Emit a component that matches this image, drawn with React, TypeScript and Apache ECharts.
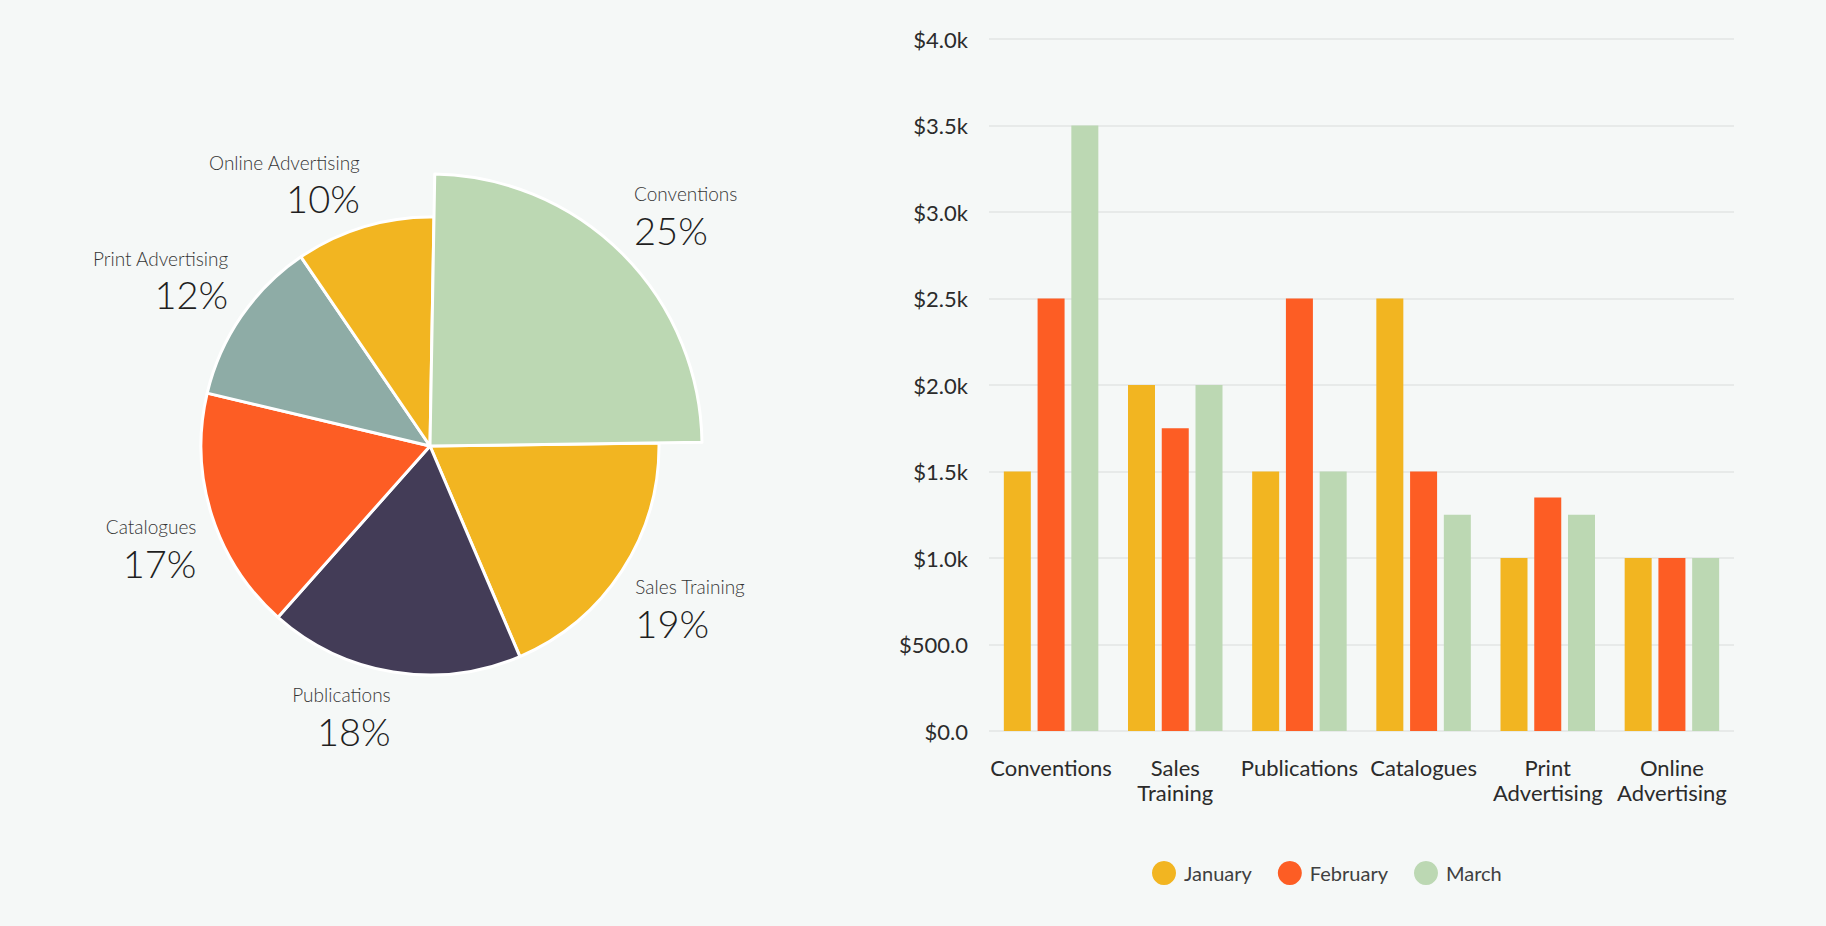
import React, { useEffect, useRef } from "react";
import * as echarts from "echarts";

// ---------- data ----------
const categories = [
  "Conventions",
  "Sales Training",
  "Publications",
  "Catalogues",
  "Print Advertising",
  "Online Advertising",
];
const monthNames = ["January", "February", "March"];
const january = [1500, 2000, 1500, 2500, 1000, 1000];
const february = [2500, 1750, 2500, 1500, 1350, 1000];
const march = [3500, 2000, 1500, 1250, 1250, 1000];

const pieNames = categories;
const pieValues = [7500, 5750, 5500, 5250, 3600, 3000];

// ---------- styles ----------
const BG = "#f5f8f7";
const monthColors = ["#f2b521", "#fd5d24", "#bcd8b3"];
const pieColors = ["#bcd8b3", "#f2b521", "#433c57", "#fd5d24", "#8eaca6", "#f2b521"];
const FONT = 'Lato, "Open Sans", "Noto Sans", sans-serif';

const PIE_CX = 430;
const PIE_CY = 446;
const R_SMALL = 229;
const R_BIG = 272;
const START_OFFSET = 1; // degrees clockwise from 12 o'clock
const LABEL_GAP = 16;

const pieTotal = pieValues.reduce((a, b) => a + b, 0);
function midAngleDeg(i: number) {
  let cum = 0;
  for (let k = 0; k < i; k++) cum += pieValues[k];
  return START_OFFSET + ((cum + pieValues[i] / 2) / pieTotal) * 360;
}

const nameStyle = { fontSize: 19, lineHeight: 26, color: "#363636", fontWeight: 300, fontFamily: FONT };
const pctStyle = { fontSize: 38, lineHeight: 46, color: "#1f1f1f", fontWeight: 300, fontFamily: FONT };

const moneyFmt = (v: number) => (v >= 1000 ? `$${(v / 1000).toFixed(1)}k` : `$${v.toFixed(1)}`);

function buildOption(): any {
  const barSeries = [january, february, march].map((d, i) => ({
    name: monthNames[i],
    type: "bar",
    data: d,
    barWidth: 27,
    barGap: "25%",
    itemStyle: { color: monthColors[i] },
    emphasis: { disabled: true },
    silent: true,
  }));

  const pieMain = {
    type: "pie",
    center: [PIE_CX, PIE_CY],
    radius: R_SMALL,
    startAngle: 90 - START_OFFSET,
    clockwise: true,
    avoidLabelOverlap: false,
    silent: true,
    emphasis: { disabled: true },
    itemStyle: { borderColor: "#ffffff", borderWidth: 3 },
    data: pieNames.map((n, i) => ({ name: n, value: pieValues[i], itemStyle: { color: pieColors[i] } })),
    label: {
      show: true,
      position: "outside",
      formatter: (p: any) => {
        const s = Math.sin((midAngleDeg(p.dataIndex) * Math.PI) / 180) >= 0 ? "l" : "r";
        return `{n${s}|${p.name}}\n{p${s}|${Math.round(p.percent)}%}`;
      },
      rich: {
        nl: { ...nameStyle, align: "left" },
        nr: { ...nameStyle, align: "right" },
        pl: { ...pctStyle, align: "left" },
        pr: { ...pctStyle, align: "right" },
      },
    },
    labelLine: { show: false },
    labelLayout: (params: any) => {
      const i = params.dataIndex;
      const th = (midAngleDeg(i) * Math.PI) / 180;
      const ux = Math.sin(th);
      const uy = -Math.cos(th);
      const R = (i === 0 ? R_BIG : R_SMALL) + LABEL_GAP;
      const px = PIE_CX + R * ux;
      const py = PIE_CY + R * uy;
      return {
        x: px,
        y: uy > 0 ? py - 6 : py - 62,
        align: ux >= 0 ? "left" : "right",
        verticalAlign: "top",
      };
    },
  };

  const pieBig = {
    type: "pie",
    center: [PIE_CX, PIE_CY],
    radius: R_BIG,
    startAngle: 90 - START_OFFSET,
    clockwise: true,
    silent: true,
    z: 3,
    emphasis: { disabled: true },
    label: { show: false },
    labelLine: { show: false },
    data: pieNames.map((n, i) => ({
      name: n,
      value: pieValues[i],
      itemStyle:
        i === 0
          ? { color: pieColors[i], borderColor: "#ffffff", borderWidth: 3 }
          : { color: "rgba(0,0,0,0)", borderWidth: 0 },
    })),
  };

  return {
    animation: false,
    backgroundColor: BG,
    textStyle: { fontFamily: FONT },
    legend: {
      data: monthNames,
      left: 1147,
      top: 856,
      padding: 5,
      icon: "circle",
      itemWidth: 24,
      itemHeight: 24,
      itemGap: 26,
      selectedMode: false,
      textStyle: { fontSize: 20, color: "#404040", fontFamily: FONT, padding: [0, 0, 0, 3] },
    },
    grid: { left: 989, right: 92, top: 39, bottom: 195, containLabel: false },
    xAxis: {
      type: "category",
      data: categories,
      axisLine: { show: false },
      axisTick: { show: false },
      axisLabel: {
        interval: 0,
        fontSize: 22,
        lineHeight: 25,
        margin: 24,
        color: "#2b2b2b",
        fontFamily: FONT,
        formatter: (v: string) => v.replace(" ", "\n"),
      },
    },
    yAxis: {
      type: "value",
      min: 0,
      max: 4000,
      interval: 500,
      axisLine: { show: false },
      axisTick: { show: false },
      axisLabel: { fontSize: 22, margin: 21, color: "#2b2b2b", fontFamily: FONT, formatter: moneyFmt },
      splitLine: { lineStyle: { color: "#e2e6e4", width: 1.5 } },
    },
    series: [...barSeries, pieMain, pieBig],
  };
}

export default function App() {
  const ref = useRef<HTMLDivElement>(null);
  useEffect(() => {
    if (!ref.current) return;
    const chart = echarts.init(ref.current, null, { renderer: "svg" });
    chart.setOption(buildOption());
    return () => chart.dispose();
  }, []);
  return (
    <div
      ref={ref}
      style={{ position: "fixed", left: 0, top: 0, width: 1826, height: 926, background: BG }}
    />
  );
}
